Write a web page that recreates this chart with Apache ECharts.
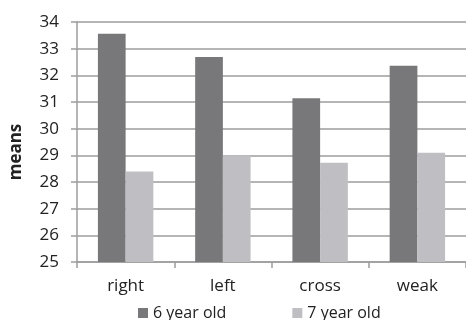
<!DOCTYPE html>
<html>
<head>
<meta charset="utf-8">
<script src="https://cdn.jsdelivr.net/npm/echarts@6/dist/echarts.min.js"></script>
<style>html,body{margin:0;padding:0;background:#fff;}#c{width:466px;height:320px;}</style>
</head>
<body>
<div id="c"></div>
<script>
const categories = ['right', 'left', 'cross', 'weak'];
const sixYearOld = [33.56, 32.69, 31.14, 32.36];
const sevenYearOld = [28.39, 28.99, 28.72, 29.10];
const seriesNames = ['6 year old', '7 year old'];
const yMin = 25, yMax = 34, yStep = 1;

const chart = echarts.init(document.getElementById('c'), null, {renderer: 'canvas'});
const font = '"Open Sans", "Noto Sans", sans-serif';
chart.setOption({
  animation: false,
  textStyle: {fontFamily: font},
  grid: {left: 76, top: 22, bottom: 58, right: -7, containLabel: false},
  legend: {
    data: seriesNames,
    left: 133, top: 300,
    icon: 'rect', itemWidth: 10, itemHeight: 10, itemGap: 66,
    textStyle: {fontSize: 16, color: '#222', fontFamily: font}
  },
  xAxis: {
    type: 'category', data: categories,
    axisLine: {show: true, lineStyle: {color: '#9d9d9d', width: 1.5}},
    axisTick: {show: true, length: 6, lineStyle: {color: '#9d9d9d', width: 1.5}},
    axisLabel: {fontSize: 17, color: '#222', margin: 16, fontFamily: font}
  },
  yAxis: {
    type: 'value', min: yMin, max: yMax, interval: yStep,
    name: 'means', nameLocation: 'middle', nameGap: 52, nameRotate: 90,
    nameTextStyle: {fontSize: 17, fontWeight: 'bold', color: '#222', fontFamily: font, padding: [0, 20, 0, 0]},
    axisLine: {show: true, lineStyle: {color: '#9d9d9d', width: 1.5}},
    axisTick: {show: true, length: 6, lineStyle: {color: '#9d9d9d', width: 1.5}},
    axisLabel: {fontSize: 17, color: '#222', margin: 18, fontFamily: font},
    splitLine: {show: true, lineStyle: {color: '#9d9d9d', width: 1.5}}
  },
  series: [
    {name: seriesNames[0], type: 'bar', data: sixYearOld, barGap: '0%', barCategoryGap: '43%',
     itemStyle: {color: '#78787b'}},
    {name: seriesNames[1], type: 'bar', data: sevenYearOld, barGap: '0%', barCategoryGap: '43%',
     itemStyle: {color: '#bfbfc3'}}
  ]
});
</script>
</body>
</html>
